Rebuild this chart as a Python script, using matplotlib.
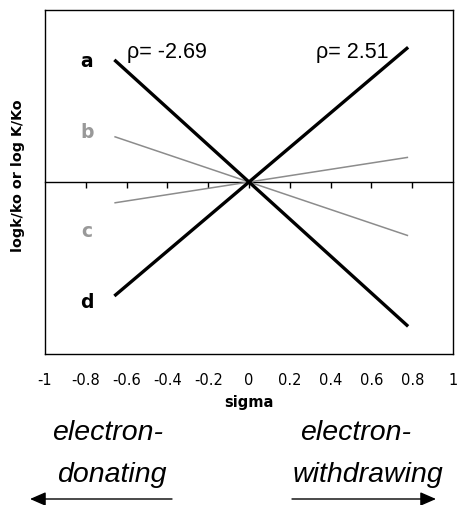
import numpy as np
import matplotlib
matplotlib.use('Agg')
import matplotlib.pyplot as plt

plt.rcParams['font.family'] = ['DejaVu Sans']

# Hammett lines: sigma end points and slopes (rho)
sigma_ends = [-0.66, 0.78]
rho_black = [-2.69, 2.51]
rho_gray = [-1.0, 0.46]

curve_labels = ['a', 'b', 'c', 'd']
curve_label_y = [1.76, 0.73, -0.71, -1.74]
curve_label_col = ['black', '#999999', '#999999', 'black']

xticks = [-1, -0.8, -0.6, -0.4, -0.2, 0, 0.2, 0.4, 0.6, 0.8, 1]
xtick_labels = ['-1', '-0.8', '-0.6', '-0.4', '-0.2', '0', '0.2', '0.4', '0.6', '0.8', '1']

fig = plt.figure(figsize=(4.57, 5.06), dpi=100)
ax = fig.add_axes([45/457, 1 - 355/506, 408/457, 344/506])

x = np.array(sigma_ends)
for r in rho_gray:
    ax.plot(x, r * x, color='#8c8c8c', lw=1.1, solid_capstyle='butt', zorder=2)
for r in rho_black:
    ax.plot(x, r * x, color='black', lw=2.4, solid_capstyle='butt', zorder=3)

ax.set_xlim(-1, 1)
ax.set_ylim(-2.5, 2.5)
ax.set_yticks([])
ax.set_xticks(xticks)
ax.set_xticklabels(xtick_labels, fontsize=10.5)
ax.tick_params(axis='x', length=0, pad=13)
for s in ax.spines.values():
    s.set_linewidth(1.0)

# zero line with tick marks
sec = ax.secondary_xaxis(0.5)
sec.set_xticks(xticks[1:-1])
sec.tick_params(axis='x', direction='in', length=4, width=1, labeltop=False,
                labelbottom=False)
sec.spines['top'].set_visible(True)
sec.spines['top'].set_linewidth(1.0)
sec.spines['bottom'].set_visible(False)

ax.set_xlabel('sigma', fontsize=10.5, fontweight='bold', labelpad=5)
ax.set_ylabel('logk/ko or log K/Ko', fontsize=10.3, fontweight='bold')
ax.yaxis.set_label_coords(-20/408, 0.52)

for lab, yy, c in zip(curve_labels, curve_label_y, curve_label_col):
    ax.text(-0.794, yy, lab, color=c, fontsize=13.5, fontweight='bold',
            ha='center', va='center')

ax.text(-0.598, 1.90, '\u03c1= %.2f' % rho_black[0], fontsize=15.5,
        family='Liberation Sans', ha='left', va='center')
ax.text(0.685, 1.90, '\u03c1= %.2f' % rho_black[1], fontsize=15.5,
        family='Liberation Sans', ha='right', va='center')

# electron donating / withdrawing
tf = dict(fontsize=20.5, style='italic', family='Liberation Sans', ha='center', va='center')
fig.text(108/457, 1 - 433/506, 'electron-', **tf)
fig.text(112/457, 1 - 475/506, 'donating', **tf)
fig.text(356/457, 1 - 433/506, 'electron-', **tf)
fig.text(368/457, 1 - 475/506, 'withdrawing', **tf)

ay = 1 - 500/506
arr = dict(arrowstyle='-|>,head_length=0.8,head_width=0.35', color='black', lw=1.0,
           shrinkA=0, shrinkB=0)
fig.patches.append(matplotlib.patches.FancyArrowPatch((172/457, ay), (30/457, ay),
                   transform=fig.transFigure, mutation_scale=12, **arr))
fig.patches.append(matplotlib.patches.FancyArrowPatch((292/457, ay), (436/457, ay),
                   transform=fig.transFigure, mutation_scale=12, **arr))

fig.savefig('out.png', dpi=100)
